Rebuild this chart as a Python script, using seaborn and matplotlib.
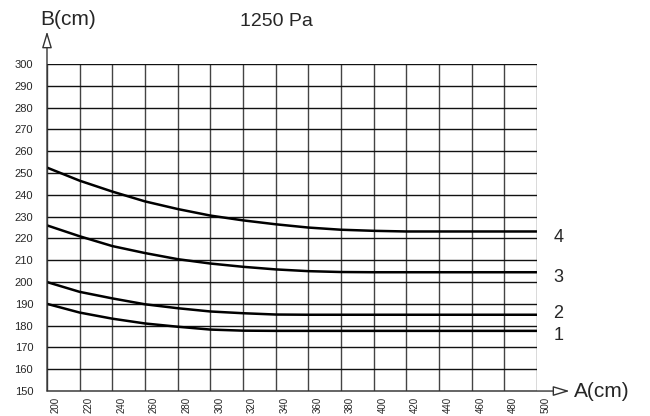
import pandas as pd
import matplotlib
matplotlib.use("Agg")
import matplotlib.pyplot as plt
import matplotlib.transforms as mtransforms
import seaborn as sns

# data
a_cm = [200, 220, 240, 260, 280, 300, 320, 340, 360, 380, 400, 420, 440, 460, 480, 500]
curve_1 = [190, 186, 183.2, 181, 179.5, 178.2, 177.7, 177.6, 177.6, 177.6, 177.6, 177.6, 177.6, 177.6, 177.6, 177.6]
curve_2 = [200, 195.5, 192.5, 189.8, 188, 186.5, 185.7, 185.1, 185, 185, 185, 185, 185, 185, 185, 185]
curve_3 = [226, 221, 216.5, 213.3, 210.5, 208.5, 207, 205.8, 205, 204.6, 204.5, 204.5, 204.5, 204.5, 204.5, 204.5]
curve_4 = [252.5, 246.5, 241.5, 237, 233.5, 230.5, 228.3, 226.5, 225, 224, 223.5, 223.2, 223.2, 223.2, 223.2, 223.2]
curve_names = ["1", "2", "3", "4"]
b_ticks = list(range(150, 301, 10))

df = pd.DataFrame({"A": a_cm * 4,
                   "B": curve_1 + curve_2 + curve_3 + curve_4,
                   "curve": [n for n in curve_names for _ in a_cm]})

sns.set_style("white")
plt.rcParams['font.family'] = ['Liberation Sans', 'DejaVu Sans']

fig = plt.figure(figsize=(6.5, 4.16), dpi=100)
ax = fig.add_axes([0.0723, 0.060, 0.7538, 0.786])

for x in a_cm:
    ax.axvline(x, color="#444444", lw=1, zorder=1)
for y in b_ticks:
    ax.axhline(y, color="#111111", lw=1, zorder=1)

sns.lineplot(data=df, x="A", y="B", units="curve", estimator=None,
             color="black", lw=1.8, ax=ax, zorder=3)

ax.set_xlim(200, 500)
ax.set_ylim(150, 300)
ax.set_xticks(a_cm)
ax.set_xticklabels([str(v) for v in a_cm], rotation=90, fontsize=7, va="top")
ax.set_yticks(b_ticks)
ax.set_yticklabels([str(v) for v in b_ticks], fontsize=8)
ax.tick_params(axis="y", length=0, pad=10)
ax.tick_params(axis="x", length=0, pad=4)
# x labels sit a little right of their grid line
shift = mtransforms.ScaledTranslation(9 / 100, 0, fig.dpi_scale_trans)
for lab in ax.get_xticklabels():
    lab.set_transform(lab.get_transform() + shift)
ax.set_xlabel("")
ax.set_ylabel("")
for s in ax.spines.values():
    s.set_visible(False)

# curve labels
label_offsets = [-1.9, 0.8, -2.2, -2.6]
for name, ys, off in zip(curve_names, [curve_1, curve_2, curve_3, curve_4], label_offsets):
    ax.text(513, ys[-1] + off, name, fontsize=13, va="center", ha="center", clip_on=False)

# axis arrows
arrow = dict(arrowstyle="-|>,head_length=1.0,head_width=0.3",
             lw=1, color="#333333", fc="white", shrinkA=0, shrinkB=0)
ax.annotate("", xy=(200, 315), xytext=(200, 150), annotation_clip=False, arrowprops=arrow)
ax.annotate("", xy=(520, 150), xytext=(200, 150), annotation_clip=False, arrowprops=arrow)
fig.text(0.883, 0.060, "A(cm)", fontsize=15, va="center", ha="left")
fig.text(0.062, 0.952, "B(cm)", fontsize=15, va="center", ha="left")
fig.text(0.370, 0.948, "1250 Pa", fontsize=14, va="center", ha="left")

fig.savefig("out.png", dpi=100, facecolor="white")
